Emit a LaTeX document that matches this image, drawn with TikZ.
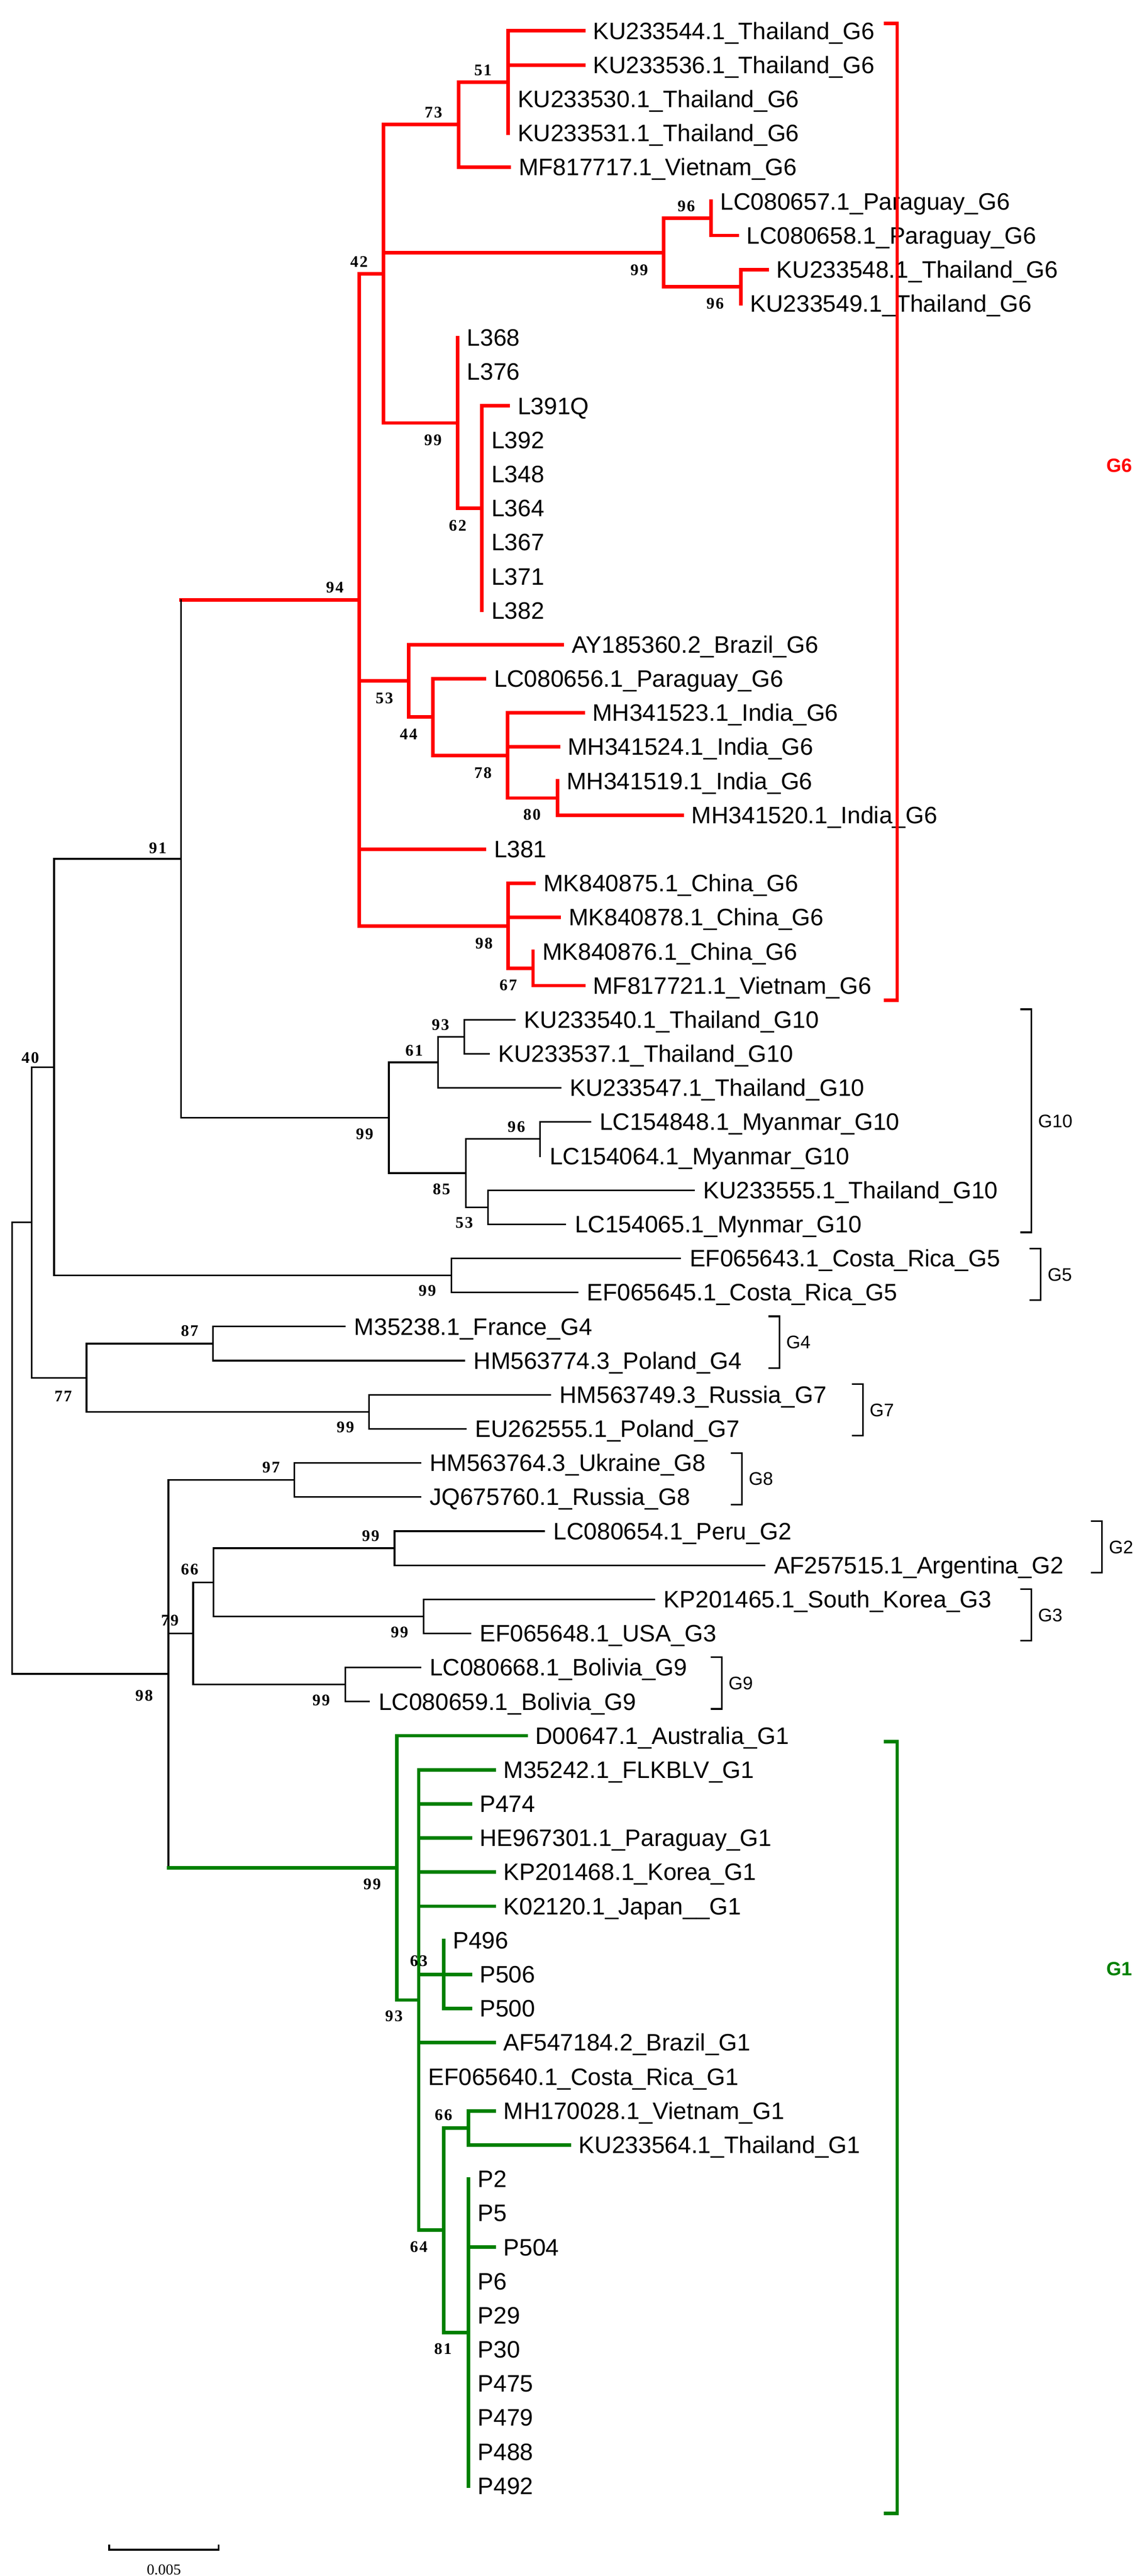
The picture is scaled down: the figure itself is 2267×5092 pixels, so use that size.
\documentclass[tikz,border=0pt]{standalone}
\usepackage{fontspec}
\setmainfont{Liberation Sans}
\newfontfamily\bsf{Liberation Serif}[LetterSpace=8]
\newfontfamily\scf{Liberation Serif}
\usetikzlibrary{calc}
\definecolor{tred}{RGB}{255,0,0}
\definecolor{tgreen}{RGB}{0,128,0}
\newcommand\Lf[4]{\coordinate (#1) at (#3,{61+67.4*#2}); \node[leaf] (#1T) at ([xshift=17pt]#1) {#4};}
\newcommand\Nd[4]{\path ($(#3)!.5!(#4)$) coordinate (#1m); \coordinate (#1) at (#2,0 |- #1m);}
\newcommand\Vt[3]{\draw (#1 |- #2) -- (#1 |- #3);}
\newcommand\Hz[2]{\draw (#1 |- #2) -- (#2);}
\newcommand\Bs[3]{\node[bs] at (#1,#2) {#3};}
\newcommand\Brk[5]{\draw[brk] (#2-22,#3) -- (#2,#3) -- (#2,#4) -- (#2-22,#4); \node[blab] (#1) at (#2+12,{(#3+#4)/2}) {#5};}
\begin{document}
\begin{tikzpicture}[x=1pt,y=-1pt,line cap=rect,line width=3.3pt,
  leaf/.style={anchor=west,inner sep=0pt,text height=33pt,text depth=0pt,font=\fontsize{47}{50}\selectfont},
  bs/.style={inner sep=0pt,text height=22pt,text depth=0pt,font=\bsf\bfseries\fontsize{32}{32}\selectfont},
  blab/.style={anchor=west,inner sep=0pt,text height=26pt,text depth=0pt,font=\fontsize{36}{40}\selectfont},
  brk/.style={line width=3.3pt,line cap=butt},
  cl/.style={line width=7pt}]
\useasboundingbox (0,0) rectangle (2267,5092);
% ---------- leaves ----------
\Lf{a1}{0}{1154}{KU233544.1\_Thailand\_G6}
\Lf{a2}{1}{1154}{KU233536.1\_Thailand\_G6}
\Lf{a3}{2}{1005}{KU233530.1\_Thailand\_G6}
\Lf{a4}{3}{1005}{KU233531.1\_Thailand\_G6}
\Lf{a5}{4}{1007}{MF817717.1\_Vietnam\_G6}
\Lf{a6}{5}{1406}{LC080657.1\_Paraguay\_G6}
\Lf{a7}{6}{1458}{LC080658.1\_Paraguay\_G6}
\Lf{a8}{7}{1517}{KU233548.1\_Thailand\_G6}
\Lf{a9}{8}{1465}{KU233549.1\_Thailand\_G6}
\Lf{a10}{9}{905}{L368}
\Lf{a11}{10}{905}{L376}
\Lf{a12}{11}{1005}{L391Q}
\Lf{a13}{12}{953}{L392}
\Lf{a14}{13}{953}{L348}
\Lf{a15}{14}{953}{L364}
\Lf{a16}{15}{953}{L367}
\Lf{a17}{16}{953}{L371}
\Lf{a18}{17}{953}{L382}
\Lf{a19}{18}{1112}{AY185360.2\_Brazil\_G6}
\Lf{a20}{19}{958}{LC080656.1\_Paraguay\_G6}
\Lf{a21}{20}{1153}{MH341523.1\_India\_G6}
\Lf{a22}{21}{1104}{MH341524.1\_India\_G6}
\Lf{a23}{22}{1102}{MH341519.1\_India\_G6}
\Lf{a24}{23}{1349}{MH341520.1\_India\_G6}
\Lf{a25}{24}{958}{L381}
\Lf{a26}{25}{1056}{MK840875.1\_China\_G6}
\Lf{a27}{26}{1106}{MK840878.1\_China\_G6}
\Lf{a28}{27}{1054}{MK840876.1\_China\_G6}
\Lf{a29}{28}{1154}{MF817721.1\_Vietnam\_G6}
\Lf{b1}{29}{1018}{KU233540.1\_Thailand\_G10}
\Lf{b2}{30}{967}{KU233537.1\_Thailand\_G10}
\Lf{b3}{31}{1108}{KU233547.1\_Thailand\_G10}
\Lf{b4}{32}{1167}{LC154848.1\_Myanmar\_G10}
\Lf{b5}{33}{1068}{LC154064.1\_Myanmar\_G10}
\Lf{b6}{34}{1372}{KU233555.1\_Thailand\_G10}
\Lf{b7}{35}{1118}{LC154065.1\_Mynmar\_G10}
\Lf{c1}{36}{1345}{EF065643.1\_Costa\_Rica\_G5}
\Lf{c2}{37}{1142}{EF065645.1\_Costa\_Rica\_G5}
\Lf{d1}{38}{682}{M35238.1\_France\_G4}
\Lf{d2}{39}{918}{HM563774.3\_Poland\_G4}
\Lf{e1}{40}{1088}{HM563749.3\_Russia\_G7}
\Lf{e2}{41}{921}{EU262555.1\_Poland\_G7}
\Lf{f1}{42}{831}{HM563764.3\_Ukraine\_G8}
\Lf{f2}{43}{831}{JQ675760.1\_Russia\_G8}
\Lf{g1}{44}{1076}{LC080654.1\_Peru\_G2}
\Lf{g2}{45}{1512}{AF257515.1\_Argentina\_G2}
\Lf{h1}{46}{1294}{KP201465.1\_South\_Korea\_G3}
\Lf{h2}{47}{930}{EF065648.1\_USA\_G3}
\Lf{i1}{48}{831}{LC080668.1\_Bolivia\_G9}
\Lf{i2}{49}{730}{LC080659.1\_Bolivia\_G9}
\Lf{j1}{50}{1040}{D00647.1\_Australia\_G1}
\Lf{j2}{51}{977}{M35242.1\_FLKBLV\_G1}
\Lf{j3}{52}{930}{P474}
\Lf{j4}{53}{930}{HE967301.1\_Paraguay\_G1}
\Lf{j5}{54}{977}{KP201468.1\_Korea\_G1}
\Lf{j6}{55}{977}{K02120.1\_Japan\_\_G1}
\Lf{j7}{56}{877}{P496}
\Lf{j8}{57}{930}{P506}
\Lf{j9}{58}{930}{P500}
\Lf{j10}{59}{977}{AF547184.2\_Brazil\_G1}
\Lf{j11}{60}{828}{EF065640.1\_Costa\_Rica\_G1}
\Lf{j12}{61}{977}{MH170028.1\_Vietnam\_G1}
\Lf{j13}{62}{1126}{KU233564.1\_Thailand\_G1}
\Lf{j14}{63}{926}{P2}
\Lf{j15}{64}{926}{P5}
\Lf{j16}{65}{977}{P504}
\Lf{j17}{66}{926}{P6}
\Lf{j18}{67}{926}{P29}
\Lf{j19}{68}{926}{P30}
\Lf{j20}{69}{926}{P475}
\Lf{j21}{70}{926}{P479}
\Lf{j22}{71}{926}{P488}
\Lf{j23}{72}{926}{P492}
% ---------- internal nodes ----------
\Nd{n51}{1005}{a1}{a4} \Nd{n73}{907}{n51}{a5}
\Nd{n96a}{1406}{a6}{a7} \Nd{n96b}{1465}{a8}{a9} \Nd{n99b}{1312}{n96a}{n96b}
\Nd{n62}{953}{a12}{a18} \Nd{n99c}{905}{a10}{n62}
\Nd{n42}{758}{n73}{n99c}
\Nd{n80}{1102}{a23}{a24} \Nd{n78}{1004}{a21}{n80} \Nd{n44}{856}{a20}{n78} \Nd{n53}{808}{a19}{n44}
\Nd{n67}{1054}{a28}{a29} \Nd{n98}{1005}{a26}{n67}
\Nd{n94}{710}{n42}{n98}
\Nd{n93g}{918}{b1}{b2} \Nd{n61}{866}{n93g}{b3} \Nd{n96g}{1068}{b4}{b5} \Nd{n53g}{965}{b6}{b7}
\Nd{n85}{921}{n96g}{n53g} \Nd{n99g}{769}{n61}{n85}
\Nd{D}{358}{n94}{n99g}
\Nd{n99g5}{893}{c1}{c2} \Nd{B}{107}{D}{n99g5}
\Nd{n87}{421}{d1}{d2} \Nd{n99g7}{730}{e1}{e2} \Nd{C}{171}{n87}{n99g7}
\Nd{A}{63}{B}{C}
\Nd{n97}{582}{f1}{f2} \Nd{n99g2}{780}{g1}{g2} \Nd{n99g3}{838}{h1}{h2} \Nd{n66}{422}{n99g2}{n99g3}
\Nd{n99g9}{683}{i1}{i2} \Nd{Y}{382}{n66}{n99g9}
\Nd{n63}{877}{j7}{j9} \Nd{n66g}{926}{j12}{j13} \Nd{n81}{926}{j14}{j23} \Nd{n64}{877}{n66g}{n81}
\Nd{n93g1}{828}{j2}{n64} \Nd{n99g1}{785}{j1}{n93g1}
\Nd{X}{333}{n97}{n99g1}
\Nd{R}{24}{A}{X}
% ---------- G6 (red) ----------
\begin{scope}[tred,cl]
\Vt{n51}{a1}{a4} \Hz{n51}{a1} \Hz{n51}{a2}
\Vt{n73}{n51}{a5} \Hz{n73}{n51} \Hz{n73}{a5}
\Vt{n96a}{a6}{a7} \Hz{n96a}{a7}
\Vt{n96b}{a8}{a9} \Hz{n96b}{a8}
\Vt{n99b}{n96a}{n96b} \Hz{n99b}{n96a} \Hz{n99b}{n96b}
\Vt{n62}{a12}{a18} \Hz{n62}{a12}
\Vt{n99c}{a10}{n62} \Hz{n99c}{n62}
\Vt{n42}{n73}{n99c} \Hz{n42}{n73} \Hz{n42}{n99b} \Hz{n42}{n99c}
\Vt{n80}{a23}{a24} \Hz{n80}{a24}
\Vt{n78}{a21}{n80} \Hz{n78}{a21} \Hz{n78}{a22} \Hz{n78}{n80}
\Vt{n44}{a20}{n78} \Hz{n44}{a20} \Hz{n44}{n78}
\Vt{n53}{a19}{n44} \Hz{n53}{a19} \Hz{n53}{n44}
\Vt{n67}{a28}{a29} \Hz{n67}{a29}
\Vt{n98}{a26}{n67} \Hz{n98}{a26} \Hz{n98}{a27} \Hz{n98}{n67}
\Vt{n94}{n42}{n98} \Hz{n94}{n42} \Hz{n94}{n53} \Hz{n94}{a25} \Hz{n94}{n98}
\Hz{D}{n94}
\end{scope}
% ---------- black part ----------
\Vt{n93g}{b1}{b2} \Hz{n93g}{b1} \Hz{n93g}{b2}
\Vt{n61}{n93g}{b3} \Hz{n61}{n93g} \Hz{n61}{b3}
\Vt{n96g}{b4}{b5} \Hz{n96g}{b4}
\Vt{n53g}{b6}{b7} \Hz{n53g}{b6} \Hz{n53g}{b7}
\Vt{n85}{n96g}{n53g} \Hz{n85}{n96g} \Hz{n85}{n53g}
\Vt{n99g}{n61}{n85} \Hz{n99g}{n61} \Hz{n99g}{n85}
\Vt{D}{n94}{n99g} \Hz{D}{n99g}
\Vt{n99g5}{c1}{c2} \Hz{n99g5}{c1} \Hz{n99g5}{c2}
\Vt{B}{D}{n99g5} \Hz{B}{D} \Hz{B}{n99g5}
\Vt{n87}{d1}{d2} \Hz{n87}{d1} \Hz{n87}{d2}
\Vt{n99g7}{e1}{e2} \Hz{n99g7}{e1} \Hz{n99g7}{e2}
\Vt{C}{n87}{n99g7} \Hz{C}{n87} \Hz{C}{n99g7}
\Vt{A}{B}{C} \Hz{A}{B} \Hz{A}{C}
\Vt{n97}{f1}{f2} \Hz{n97}{f1} \Hz{n97}{f2}
\Vt{n99g2}{g1}{g2} \Hz{n99g2}{g1} \Hz{n99g2}{g2}
\Vt{n99g3}{h1}{h2} \Hz{n99g3}{h1} \Hz{n99g3}{h2}
\Vt{n66}{n99g2}{n99g3} \Hz{n66}{n99g2} \Hz{n66}{n99g3}
\Vt{n99g9}{i1}{i2} \Hz{n99g9}{i1} \Hz{n99g9}{i2}
\Vt{Y}{n66}{n99g9} \Hz{Y}{n66} \Hz{Y}{n99g9}
\Vt{X}{n97}{n99g1} \Hz{X}{n97} \Hz{X}{Y}
\Vt{R}{A}{X} \Hz{R}{A} \Hz{R}{X}
% ---------- G1 (green) ----------
\begin{scope}[tgreen,cl]
\Vt{n63}{j7}{j9} \Hz{n63}{j8} \Hz{n63}{j9}
\Vt{n66g}{j12}{j13} \Hz{n66g}{j12} \Hz{n66g}{j13}
\Vt{n81}{j14}{j23} \Hz{n81}{j16}
\Vt{n64}{n66g}{n81} \Hz{n64}{n66g} \Hz{n64}{n81}
\Vt{n93g1}{j2}{n64} \Hz{n93g1}{j2} \Hz{n93g1}{j3} \Hz{n93g1}{j4} \Hz{n93g1}{j5} \Hz{n93g1}{j6}
\Hz{n93g1}{n63} \Hz{n93g1}{j10} \Hz{n93g1}{n64}
\Vt{n99g1}{j1}{n93g1} \Hz{n99g1}{j1} \Hz{n99g1}{n93g1}
\Hz{X}{n99g1}
\end{scope}
% ---------- bootstrap values ----------
\Bs{955}{138}{51} \Bs{857}{222}{73} \Bs{710}{517}{42} \Bs{1357}{407}{96}
\Bs{1264}{533}{99} \Bs{1414}{600}{96} \Bs{856}{869}{99} \Bs{905}{1038}{62}
\Bs{662}{1161}{94} \Bs{312}{1676}{91} \Bs{60}{2090}{40} \Bs{760}{1380}{53}
\Bs{808}{1451}{44} \Bs{955}{1527}{78} \Bs{1052}{1610}{80} \Bs{957}{1864}{98}
\Bs{1005}{1947}{67} \Bs{871}{2025}{93} \Bs{819}{2076}{61} \Bs{721}{2241}{99}
\Bs{1021}{2227}{96} \Bs{873}{2350}{85} \Bs{918}{2416}{53} \Bs{845}{2551}{99}
\Bs{375}{2630}{87} \Bs{125}{2760}{77} \Bs{683}{2821}{99} \Bs{536}{2900}{97}
\Bs{733}{3035}{99} \Bs{375}{3102}{66} \Bs{336}{3203}{79} \Bs{285}{3351}{98}
\Bs{790}{3226}{99} \Bs{635}{3360}{99} \Bs{736}{3724}{99} \Bs{779}{3985}{93}
\Bs{828}{3876}{63} \Bs{877}{4180}{66} \Bs{828}{4441}{64} \Bs{876}{4643}{81}
% ---------- brackets ----------
\Brk{L10}{2039}{1995}{2436}{G10}
\Brk{L5}{2058}{2468}{2570}{G5}
\Brk{L4}{1541}{2602}{2704}{G4}
\Brk{L7}{1706}{2736}{2838}{G7}
\Brk{L8}{1467}{2872}{2974}{G8}
\Brk{L2}{2179}{3007}{3109}{G2}
\Brk{L3}{2039}{3141}{3243}{G3}
\Brk{L9}{1427}{3276}{3378}{G9}
\draw[tred,line width=7pt,line cap=butt] (1748,46) -- (1774,46) -- (1774,1977) -- (1748,1977);
\node[tred,anchor=east,inner sep=0pt,font=\bfseries\fontsize{38}{40}\selectfont] (L6) at (2240,920) {G6};
\draw[tgreen,line width=7pt,line cap=butt] (1748,3443) -- (1774,3443) -- (1774,4968) -- (1748,4968);
\node[tgreen,anchor=east,inner sep=0pt,font=\bfseries\fontsize{38}{40}\selectfont] (L1) at (2240,3892) {G1};
% ---------- scale bar ----------
\coordinate (s1) at (216,5040); \coordinate (s2) at (432,5040);
\draw[line cap=butt] ([yshift=10pt]s1) -- (s1) -- (s2) -- ([yshift=10pt]s2);
\node[inner sep=0pt,font=\scf\fontsize{30}{32}\selectfont] (sl) at (324,5080) {0.005};
\end{tikzpicture}
\end{document}
